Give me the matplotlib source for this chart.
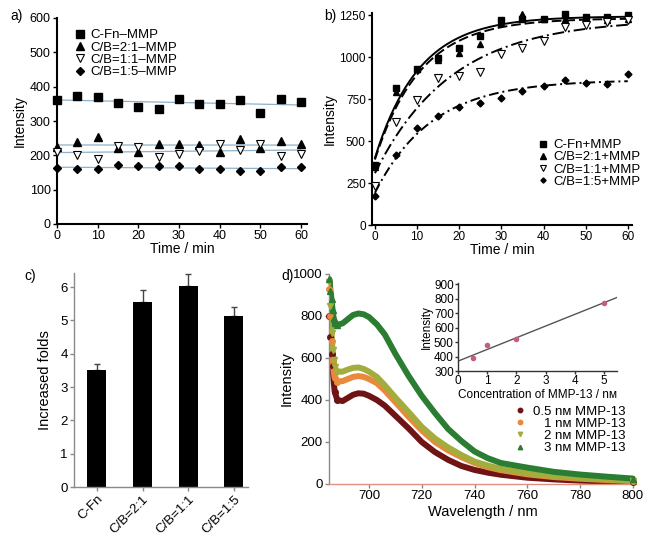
import numpy as np
import matplotlib
matplotlib.use("Agg")
import matplotlib.pyplot as plt

plt.rcParams['font.family'] = ['Liberation Sans', 'DejaVu Sans']

# ---- panel a: intensity vs time without MMP
time_a = [0, 5, 10, 15, 20, 25, 30, 35, 40, 45, 50, 55, 60]
a_cfn = [362, 373, 371, 352, 342, 335, 363, 350, 350, 362, 322, 363, 356]
a_21 = [225, 240, 252, 221, 209, 232, 232, 230, 209, 247, 220, 241, 232]
a_11 = [211, 201, 190, 228, 225, 196, 204, 214, 233, 215, 234, 197, 205]
a_15 = [164, 159, 160, 171, 169, 170, 170, 161, 160, 154, 154, 165, 165]
labels_a = ['C-Fn\u2013MMP', 'C/B=2:1\u2013MMP', 'C/B=1:1\u2013MMP', 'C/B=1:5\u2013MMP']

# ---- panel b: intensity vs time with MMP
time_b = [0, 5, 10, 15, 20, 25, 30, 35, 40, 45, 50, 55, 60]
b_cfn = [356, 815, 931, 996, 1055, 1124, 1218, 1225, 1228, 1254, 1236, 1240, 1252]
b_21 = [345, 789, 927, 980, 1021, 1078, 1200, 1255, 1228, 1226, 1228, 1218, 1228]
b_11 = [232, 616, 746, 878, 884, 911, 1020, 1051, 1098, 1177, 1189, 1208, 1218]
b_15 = [170, 419, 577, 651, 705, 724, 754, 799, 827, 864, 848, 839, 898]
labels_b = ['C-Fn+MMP', 'C/B=2:1+MMP', 'C/B=1:1+MMP', 'C/B=1:5+MMP']

# ---- panel c: increased folds
groups_c = ['C-Fn', 'C/B=2:1', 'C/B=1:1', 'C/B=1:5']
folds = [3.51, 5.56, 6.03, 5.13]
folds_err = [0.19, 0.36, 0.37, 0.28]

# ---- panel d: emission spectra
wavelength = [685.0, 685.4, 685.8, 686.2, 686.6, 687.0, 688, 690, 692, 694, 696, 698,
              700, 703, 706, 710, 715, 720, 725, 730, 735, 740, 745, 750, 760, 770,
              780, 790, 800]
spec_05 = [800, 700, 620, 560, 490, 440, 400, 395, 410, 425, 432, 430,
           420, 400, 373, 325, 265, 200, 152, 115, 86, 67, 54, 44, 30, 22,
           16, 12, 9]
spec_1 = [930, 800, 680, 590, 540, 505, 488, 490, 500, 510, 514, 510,
          500, 480, 445, 390, 320, 255, 200, 160, 128, 100, 80, 66, 46, 33,
          25, 19, 14]
spec_2 = [960, 850, 720, 640, 590, 555, 535, 535, 545, 553, 555, 548,
          535, 510, 470, 412, 343, 272, 217, 174, 138, 107, 88, 72, 52, 38,
          29, 22, 16]
spec_3 = [975, 920, 880, 830, 790, 765, 758, 765, 785, 805, 812, 808,
          795, 760, 712, 620, 515, 420, 338, 262, 205, 155, 123, 100, 78, 58,
          45, 35, 26]
labels_d = ['0.5 n\u1d0d MMP-13', '\u2007\u20081 n\u1d0d MMP-13',
            '\u2007\u20082 n\u1d0d MMP-13', '\u2007\u20083 n\u1d0d MMP-13']

# inset: intensity vs MMP-13 concentration
conc = [0.5, 1, 2, 5]
conc_int = [390, 477, 522, 773]

W, H = 649, 538
fig = plt.figure(figsize=(W / 100, H / 100), dpi=100)


def ax_at(left, top, right, bottom):
    return fig.add_axes([left / W, 1 - bottom / H, (right - left) / W, (bottom - top) / H])


def style_axes(ax, color='black', lw=1.5, size=9):
    for s in ['top', 'right']:
        ax.spines[s].set_visible(False)
    for s in ['left', 'bottom']:
        ax.spines[s].set_color(color)
        ax.spines[s].set_linewidth(lw)
    ax.tick_params(direction='out', length=3, width=1, color=color, labelsize=size, pad=1.5)


def fit_exp(t, y):
    t = np.asarray(t, float)
    y = np.asarray(y, float)
    best = None
    for k in np.linspace(0.01, 0.5, 491):
        X = np.column_stack([np.ones_like(t), np.exp(-k * t)])
        coef, res, _, _ = np.linalg.lstsq(X, y, rcond=None)
        err = np.sum((X @ coef - y) ** 2)
        if best is None or err < best[0]:
            best = (err, coef, k)
    return best[1], best[2]


# ---------------- a)
ax = ax_at(57, 18, 307, 224)
style_axes(ax)
markers = [dict(marker='s', mfc='black', mec='black', ms=5.5),
           dict(marker='^', mfc='black', mec='black', ms=5.5),
           dict(marker='v', mfc='white', mec='black', ms=6, mew=0.8),
           dict(marker='D', mfc='black', mec='black', ms=3.8)]
tt = np.linspace(0, 60, 50)
for vals, lab, m in zip([a_cfn, a_21, a_11, a_15], labels_a, markers):
    p = np.polyfit(time_a, vals, 1)
    ax.plot(tt, np.polyval(p, tt), color='#8fb0c8', lw=0.9, zorder=1)
    ax.plot(time_a, vals, ls='none', label=lab, clip_on=False, zorder=3, **m)
ax.set_xlim(0, 61.5)
ax.set_ylim(0, 600)
ax.set_xticks(range(0, 61, 10))
ax.set_yticks(range(0, 601, 100))
ax.set_xlabel('Time / min', fontsize=10, labelpad=0)
ax.set_ylabel('Intensity', fontsize=10, labelpad=2)
ax.legend(loc='upper left', bbox_to_anchor=(0.048, 0.971), frameon=False, fontsize=9.5,
          handlelength=0.8, handletextpad=0.4, labelspacing=0.0, borderaxespad=0)

# ---------------- b)
ax = ax_at(372, 13, 632, 225)
style_axes(ax, size=8.5)
styles = ['-', (0, (5, 2)), (0, (6, 2, 1, 2)), (0, (5, 2, 1, 2))]
markers_b = [dict(marker='s', mfc='black', mec='black', ms=5),
             dict(marker='^', mfc='black', mec='black', ms=5),
             dict(marker='v', mfc='white', mec='black', ms=5.5, mew=0.8),
             dict(marker='D', mfc='black', mec='black', ms=3.5)]
tt = np.linspace(0, 60, 200)
for vals, lab, ls, m in zip([b_cfn, b_21, b_11, b_15], labels_b, styles, markers_b):
    coef, k = fit_exp(time_b, vals)
    ax.plot(tt, coef[0] + coef[1] * np.exp(-k * tt), color='black', ls=ls, lw=1.4, zorder=2)
    ax.plot(time_b, vals, ls='none', label=lab, clip_on=False, zorder=3, **m)
ax.set_xlim(-0.7, 61)
ax.set_ylim(0, 1262)
ax.set_xticks(range(0, 61, 10))
ax.set_yticks(range(0, 1251, 250))
ax.set_xlabel('Time / min', fontsize=10, labelpad=0)
ax.set_ylabel('Intensity', fontsize=10, labelpad=2)
ax.legend(loc='lower right', bbox_to_anchor=(1.055, 0.15), frameon=False, fontsize=9.5,
          handlelength=0.8, handletextpad=0.4, labelspacing=0.0, borderaxespad=0,
          markerscale=0.75)

# ---------------- c)
ax = ax_at(74, 273, 248, 487)
style_axes(ax, color='#8a8a8a', lw=1, size=9.5)
x = np.arange(len(groups_c))
ax.bar(x, folds, width=0.42, color='black', zorder=2)
ax.errorbar(x, folds, yerr=[np.zeros(len(folds)), folds_err], fmt='none',
            ecolor='#444444', elinewidth=1, capsize=2.5, capthick=1, zorder=1)
ax.set_xlim(-0.5, 3.31)
ax.set_ylim(0, 6.42)
ax.set_yticks(range(0, 7))
ax.set_xticks(x)
ax.set_xticklabels(groups_c, rotation=45, ha='right', rotation_mode='anchor')
ax.set_ylabel('Increased folds', fontsize=10.5, labelpad=6)

# ---------------- d)
ax = ax_at(329, 274, 636, 484)
style_axes(ax, color='#8a8a8a', lw=1, size=9.5)
ax.spines['bottom'].set_color('#e09080')
colors_d = ['#6e1414', '#e8893c', '#a3ad3e', '#2b7d32']
marks_d = ['o', 'o', 'v', '^']
n_spike = 7
for spec, lab, c, mk in zip([spec_05, spec_1, spec_2, spec_3], labels_d, colors_d, marks_d):
    ax.plot(wavelength, spec, color=c, lw=4.3, solid_capstyle='round',
            solid_joinstyle='round', zorder=2)
    ax.plot(wavelength[:n_spike] + wavelength[-1:], spec[:n_spike] + spec[-1:], ls='none',
            marker=mk, color=c, ms=4, label=lab, clip_on=False, zorder=3)
ax.set_xlim(684.85, 801.2)
ax.set_ylim(0, 1000)
ax.set_xticks(range(700, 801, 20))
ax.set_yticks(range(0, 1001, 200))
ax.set_xlabel('Wavelength / nm', fontsize=10.5, labelpad=2)
ax.set_ylabel('Intensity', fontsize=10.5, labelpad=0)
ax.legend(loc='upper right', bbox_to_anchor=(0.985, 0.40), frameon=False, fontsize=9.5,
          handlelength=0.8, handletextpad=0.6, labelspacing=0.0, borderaxespad=0,
          markerscale=0.8)

# inset
ins = ax_at(458, 283, 617, 371)
style_axes(ins, color='#333333', lw=1, size=8.5)
ins.set_facecolor('none')
p = np.polyfit(conc, conc_int, 1)
xx = np.array([0, 5.45])
ins.plot(xx, np.polyval(p, xx), color='#555555', lw=1)
ins.plot(conc, conc_int, ls='none', marker='o', ms=3, color='#c2607e')
ins.set_xlim(0, 5.45)
ins.set_ylim(300, 910)
ins.set_xticks(range(0, 6))
ins.set_yticks(range(300, 901, 100))
ins.tick_params(length=2, pad=1)
ins.set_xlabel('Concentration of MMP-13 / n\u1d0d', fontsize=8.5, labelpad=1)
ins.set_ylabel('Intensity', fontsize=8.5, labelpad=1)

# panel letters
for txt, px, py in [('a)', 10, 16), ('b)', 324, 16), ('c)', 24, 276), ('d)', 281, 276)]:
    fig.text(px / W, 1 - py / H, txt, fontsize=10, va='center', ha='left')

fig.savefig('out.png', dpi=100)
